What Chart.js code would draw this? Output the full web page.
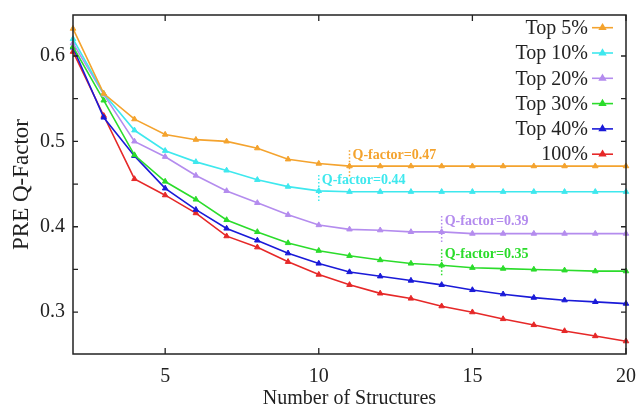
<!DOCTYPE html>
<html>
<head>
<meta charset="utf-8">
<script src="https://cdn.jsdelivr.net/npm/chart.js@4"></script>
<style>
html,body{margin:0;padding:0;background:#fff;}
#wrap{width:640px;height:408px;position:relative;}
</style>
</head>
<body>
<div id="wrap"><canvas id="c" width="640" height="408"></canvas></div>
<script>
// ---- data ----
const structures = [2,3,4,5,6,7,8,9,10,11,12,13,14,15,16,17,18,19,20];
const seriesNames = ["Top 5%","Top 10%","Top 20%","Top 30%","Top 40%","100%"];
const top5   = [0.632,0.556,0.526,0.508,0.502,0.500,0.492,0.479,0.474,0.471,0.471,0.471,0.471,0.471,0.471,0.471,0.471,0.471,0.471];
const top10  = [0.620,0.556,0.513,0.489,0.476,0.466,0.455,0.447,0.442,0.441,0.441,0.441,0.441,0.441,0.441,0.441,0.441,0.441,0.441];
const top20  = [0.615,0.555,0.500,0.482,0.460,0.442,0.428,0.414,0.402,0.397,0.396,0.394,0.394,0.392,0.392,0.392,0.392,0.392,0.392];
const top30  = [0.611,0.548,0.484,0.453,0.432,0.408,0.394,0.381,0.372,0.366,0.361,0.357,0.355,0.352,0.351,0.350,0.349,0.348,0.348];
const top40  = [0.610,0.528,0.483,0.445,0.420,0.398,0.384,0.369,0.357,0.347,0.342,0.337,0.332,0.326,0.321,0.317,0.314,0.312,0.310];
const all100 = [0.605,0.530,0.456,0.437,0.416,0.389,0.376,0.359,0.344,0.332,0.322,0.316,0.307,0.300,0.292,0.285,0.278,0.272,0.266];
const seriesColors = ["#f4a32e","#3ee8ee","#b48cee","#2bdc2b","#1a1ad8","#e62828"];
const xTicks = [5,10,15,20];
const yTicks = [0.30,0.35,0.40,0.45,0.50,0.55,0.60];
const yTickLabels = ["0.3","","0.4","","0.5","","0.6"];
const annSeries = [0,1,2,3];
const annX = [11,10,14,14];
const annLabels = ["Q-factor=0.47","Q-factor=0.44","Q-factor=0.39","Q-factor=0.35"];

const allSeries = [top5,top10,top20,top30,top40,all100];
const FONT = "'Liberation Serif', 'Times New Roman', serif";

const datasets = allSeries.map((vals,i)=>({
  label: seriesNames[i],
  data: structures.map((x,j)=>({x:x,y:vals[j]})),
  borderColor: seriesColors[i],
  backgroundColor: seriesColors[i],
  borderWidth: 1.6,
  pointStyle: 'triangle',
  pointRadius: 3.2,
  pointBorderWidth: 1,
  tension: 0,
  clip: false
}));

const framePlugin = {
  id:'frame',
  afterDatasetsDraw(chart){
    const ctx = chart.ctx, a = chart.chartArea;
    const xs = chart.scales.x, ys = chart.scales.y;
    ctx.save();
    ctx.strokeStyle = '#222';
    ctx.lineWidth = 1.5;
    ctx.strokeRect(a.left, a.top, a.right-a.left, a.bottom-a.top);
    ctx.lineWidth = 1.3;
    ctx.beginPath();
    xTicks.forEach(v=>{
      const px = xs.getPixelForValue(v);
      ctx.moveTo(px,a.bottom); ctx.lineTo(px,a.bottom-6);
      ctx.moveTo(px,a.top); ctx.lineTo(px,a.top+6);
    });
    yTicks.forEach(v=>{
      const py = ys.getPixelForValue(v);
      ctx.moveTo(a.left,py); ctx.lineTo(a.left+5,py);
      ctx.moveTo(a.right,py); ctx.lineTo(a.right-5,py);
    });
    ctx.stroke();

    // annotations
    annSeries.forEach((si,k)=>{
      const idx = structures.indexOf(annX[k]);
      const px = xs.getPixelForValue(annX[k]);
      const py = ys.getPixelForValue(allSeries[si][idx]);
      ctx.strokeStyle = seriesColors[si];
      ctx.lineWidth = 1.5;
      ctx.setLineDash([1.5,2]);
      ctx.beginPath();
      ctx.moveTo(px,py-16); ctx.lineTo(px,py+10);
      ctx.stroke();
      ctx.setLineDash([]);
      ctx.fillStyle = seriesColors[si];
      ctx.font = "bold 14px " + FONT;
      ctx.textAlign = 'left';
      ctx.textBaseline = 'middle';
      ctx.fillText(annLabels[k], px+3, py-11);
    });

    // legend
    ctx.font = "20px " + FONT;
    ctx.textAlign = 'right';
    ctx.textBaseline = 'middle';
    seriesNames.forEach((n,i)=>{
      const y = 27.7 + i*25.3;
      ctx.fillStyle = '#222';
      ctx.fillText(n, 588, y+1);
      ctx.strokeStyle = seriesColors[i];
      ctx.lineWidth = 1.6;
      ctx.beginPath(); ctx.moveTo(592,y); ctx.lineTo(613,y); ctx.stroke();
      ctx.fillStyle = seriesColors[i];
      Chart.helpers.drawPoint(ctx,{pointStyle:'triangle',radius:3.2,borderWidth:1,rotation:0},602.5,y);
      ctx.fill();
    });
    ctx.restore();
  }
};

new Chart(document.getElementById('c'),{
  type:'line',
  data:{datasets},
  options:{
    responsive:false,
    animation:false,
    events:[],
    layout:{padding:{top:15,right:14,left:0,bottom:0}},
    plugins:{legend:{display:false},tooltip:{enabled:false}},
    scales:{
      x:{
        type:'linear',
        min:2,max:20,
        afterBuildTicks(s){ s.ticks = xTicks.map(v=>({value:v})); },
        afterFit(s){ s.height = 54; s.paddingLeft = 0; s.paddingRight = 0; },
        grid:{display:false,drawTicks:false},
        border:{display:false},
        ticks:{font:{family:FONT,size:20},color:'#222',padding:11,maxRotation:0,autoSkip:false},
        title:{display:true,text:'Number of Structures',font:{family:FONT,size:20},color:'#222',padding:{top:0,bottom:-3}}
      },
      y:{
        min:0.251,max:0.648,
        afterBuildTicks(s){ s.ticks = yTicks.map(v=>({value:v})); },
        afterFit(s){ s.width = 73; s.paddingTop = 0; s.paddingBottom = 0; },
        grid:{display:false,drawTicks:false},
        border:{display:false},
        ticks:{font:{family:FONT,size:20},color:'#222',padding:8,autoSkip:false,
          callback(v,i){ return yTickLabels[i]; }},
        title:{display:true,text:'PRE Q-Factor',font:{family:FONT,size:23},color:'#222',padding:{top:8,bottom:0}}
      }
    }
  },
  plugins:[framePlugin]
});
</script>
</body>
</html>
